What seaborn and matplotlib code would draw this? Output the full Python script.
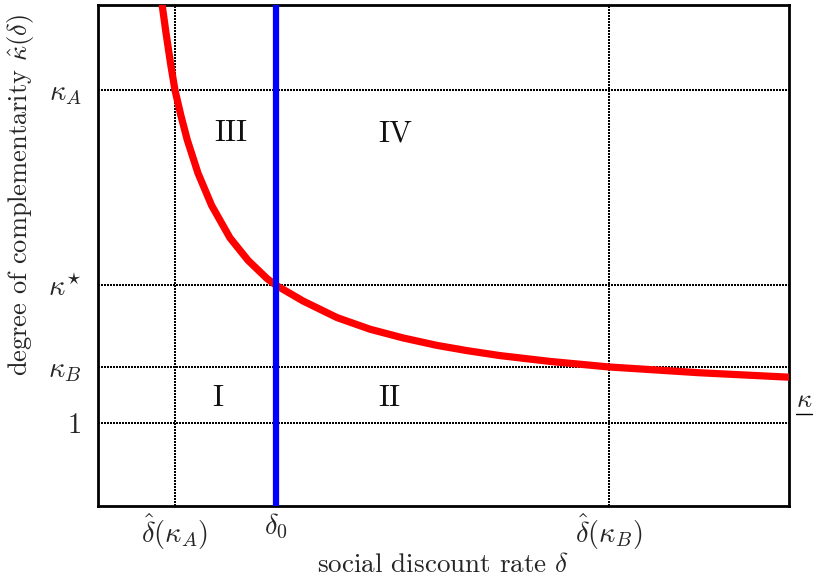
import matplotlib

matplotlib.use("Agg")
import matplotlib.pyplot as plt
import seaborn as sns
from matplotlib.lines import Line2D

# curve kappa_hat(delta)
delta = [0.0931, 0.0984, 0.1052, 0.1114, 0.1201, 0.1292, 0.1389, 0.1447,
         0.1645, 0.1910, 0.2171, 0.2446, 0.2576, 0.2967, 0.3459, 0.3936,
         0.4414, 0.4906, 0.5340, 0.5818, 0.6541, 0.7395, 0.8712, 1.0]
kappa = [6.02, 5.70, 5.32, 5.01, 4.70, 4.41, 4.16, 4.01,
         3.62, 3.23, 2.96, 2.74, 2.66, 2.47, 2.27, 2.13,
         2.025, 1.935, 1.872, 1.812, 1.742, 1.675, 1.605, 1.552]

delta_0 = 0.2576
x_ticks = [0.1114, 0.2576, 0.7395]
x_labels = [r"$\hat{\delta}(\kappa_A)$", r"$\delta_0$", r"$\hat{\delta}(\kappa_B)$"]
y_ticks = [1.0, 1.675, 2.66, 5.01]
y_labels = [r"$1$", r"$\kappa_B$", r"$\kappa^{\star}$", r"$\kappa_A$"]
kappa_low = 1.28

regions = ["III", "IV", "I", "II"]
region_x = [0.1925, 0.430, 0.174, 0.421]
region_y = [4.49, 4.49, 1.30, 1.30]

sns.set_theme(style="white")
plt.rcParams.update(
    {
        "font.family": "serif",
        "font.serif": ["cmr10", "DejaVu Serif"],
        "mathtext.fontset": "cm",
        "axes.unicode_minus": False,
        "axes.formatter.use_mathtext": True,
        "font.size": 19,
    }
)

fig = plt.figure(figsize=(8.14, 5.79), dpi=100)
ax = fig.add_axes([98 / 814, 1 - 506 / 579, 691 / 814, 501 / 579])

sns.lineplot(x=delta, y=kappa, color="#ff0000", linewidth=5.2, sort=False,
             estimator=None, ax=ax, zorder=3, solid_capstyle="round",
             solid_joinstyle="round")
ax.axvline(delta_0, color="#0000ff", linewidth=4.5, zorder=4)

ax.set_xlim(0, 1)
ax.set_ylim(0, 6.036)
ax.set_xticks(x_ticks)
ax.set_xticklabels(x_labels, fontsize=20.5)
ax.set_yticks(y_ticks)
ax.set_yticklabels(y_labels, fontsize=20.5)
ax.tick_params(axis="both", length=0)
ax.tick_params(axis="x", pad=4)
ax.tick_params(axis="y", pad=12)

ax.grid(True, color="black", linestyle=(0, (0.7, 0.7)), linewidth=1.5,
        antialiased=False)
ax.set_axisbelow(True)

for side in ["top", "bottom", "left", "right"]:
    ax.spines[side].set_visible(True)
    ax.spines[side].set_color("black")
    ax.spines[side].set_linewidth(2.0)

ax.set_xlabel(r"social discount rate $\delta$", fontsize=19.5, labelpad=1)
ax.set_ylabel(r"degree of complementarity $\hat{\kappa}(\delta)$", fontsize=19)
ax.yaxis.set_label_coords(-0.09, 0.62)

for name, rx, ry in zip(regions, region_x, region_y):
    ax.text(rx, ry, name, fontsize=22, ha="center", va="center", color="#111111")

# underlined kappa at the right border
lab = ax.annotate(r"$\kappa$", xy=(1.0, kappa_low), xycoords=("axes fraction", "data"),
                  xytext=(5, 0), textcoords="offset points", ha="left", va="center",
                  fontsize=19, annotation_clip=False)
fig.canvas.draw()
bb = lab.get_window_extent()
y_line = (bb.y0 - 2) / fig.bbox.height
fig.add_artist(Line2D([bb.x0 / fig.bbox.width, bb.x1 / fig.bbox.width],
                      [y_line, y_line], color="black", linewidth=1.0))

fig.savefig("out.png", dpi=100)
